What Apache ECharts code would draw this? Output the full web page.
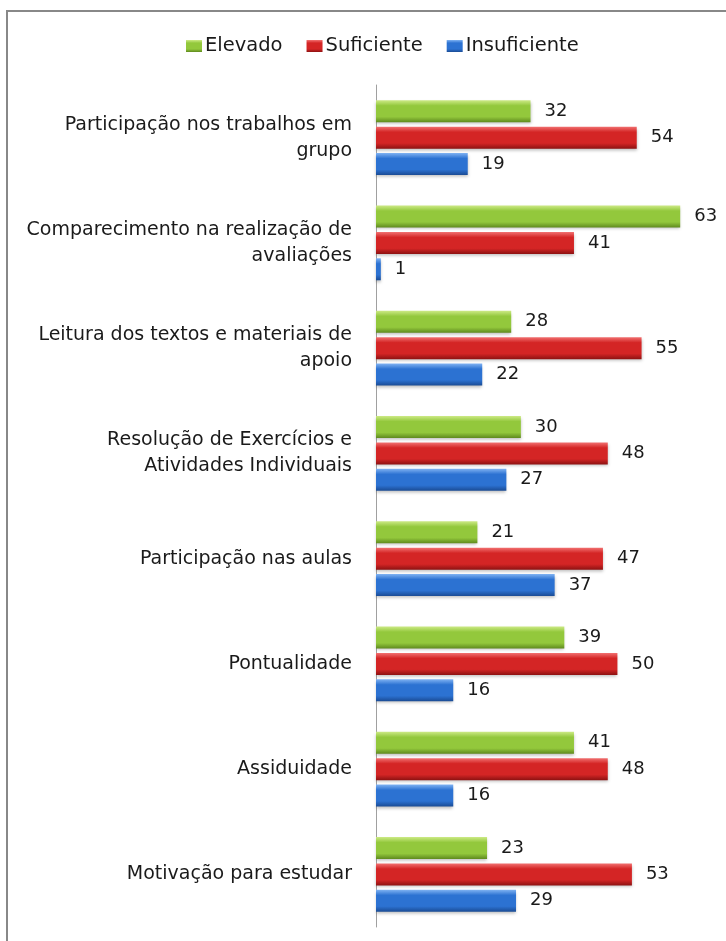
<!DOCTYPE html>
<html><head><meta charset="utf-8">
<script src="https://cdn.jsdelivr.net/npm/echarts@6/dist/echarts.min.js"></script>
<style>html,body{margin:0;padding:0;background:#fff}#c{width:726px;height:941px}</style>
</head><body><div id="c"></div>
<script>
var categories = [
  "Participação nos trabalhos em\ngrupo",
  "Comparecimento na realização de\navaliações",
  "Leitura dos textos e materiais de\napoio",
  "Resolução de Exercícios e\nAtividades Individuais",
  "Participação nas aulas",
  "Pontualidade",
  "Assiduidade",
  "Motivação para estudar"
];
var elevado = [32, 63, 28, 30, 21, 39, 41, 23];
var suficiente = [54, 41, 55, 48, 47, 50, 48, 53];
var insuficiente = [19, 1, 22, 27, 37, 16, 16, 29];
var seriesNames = ["Elevado", "Suficiente", "Insuficiente"];

var FONT = "DejaVu Sans";
function grad(top, mid, bot) {
  return new echarts.graphic.LinearGradient(0, 0, 0, 1, [
    {offset: 0, color: top}, {offset: 0.25, color: mid}, {offset: 0.75, color: mid}, {offset: 1, color: bot}
  ]);
}
var colors = [
  grad('#cdea86', '#93c83c', '#5f8a1e'),
  grad('#f27272', '#d42525', '#8e1212'),
  grad('#7fb2f2', '#2c72d2', '#1a4b94')
];
var flat = ['#8dc63f', '#d42a2a', '#2c72d2'];
function mk(i, data) {
  return {
    name: seriesNames[i], type: 'bar', data: data, barWidth: 22, barGap: '20%',
    itemStyle: {color: colors[i], shadowColor: 'rgba(0,0,0,0.25)', shadowBlur: 3, shadowOffsetY: 2},
    label: {show: true, position: 'right', distance: 14, color: '#1a1a1a', fontSize: 18, fontFamily: FONT}
  };
}
var chart = echarts.init(document.getElementById('c'));
chart.setOption({
  animation: false,
  color: flat,
  legend: {
    top: 31, left: 181, itemWidth: 16, itemHeight: 12, itemGap: 24,
    icon: 'rect',
    textStyle: {fontSize: 19.5, fontFamily: FONT, color: '#1a1a1a', padding: [0, 0, 0, -2]},
    data: seriesNames.map(function(n, i){ return {name: n, itemStyle: {color: colors[i]}}; })
  },
  grid: {left: 376, right: 12, top: 85, bottom: 14},
  xAxis: {type: 'value', min: 0, max: 70, show: false},
  yAxis: {
    type: 'category', data: categories, inverse: true,
    axisLine: {show: true, lineStyle: {color: '#a0a0a0', width: 1}},
    axisTick: {show: false},
    axisLabel: {fontSize: 19, fontFamily: FONT, color: '#1a1a1a', margin: 24, lineHeight: 26, align: 'right'}
  },
  graphic: [{type: 'rect', shape: {x: 7, y: 11, width: 740, height: 960}, style: {fill: null, stroke: '#888', lineWidth: 2}, silent: true, z: -1}],
  series: [mk(0, elevado), mk(1, suficiente), mk(2, insuficiente)]
});
</script></body></html>
